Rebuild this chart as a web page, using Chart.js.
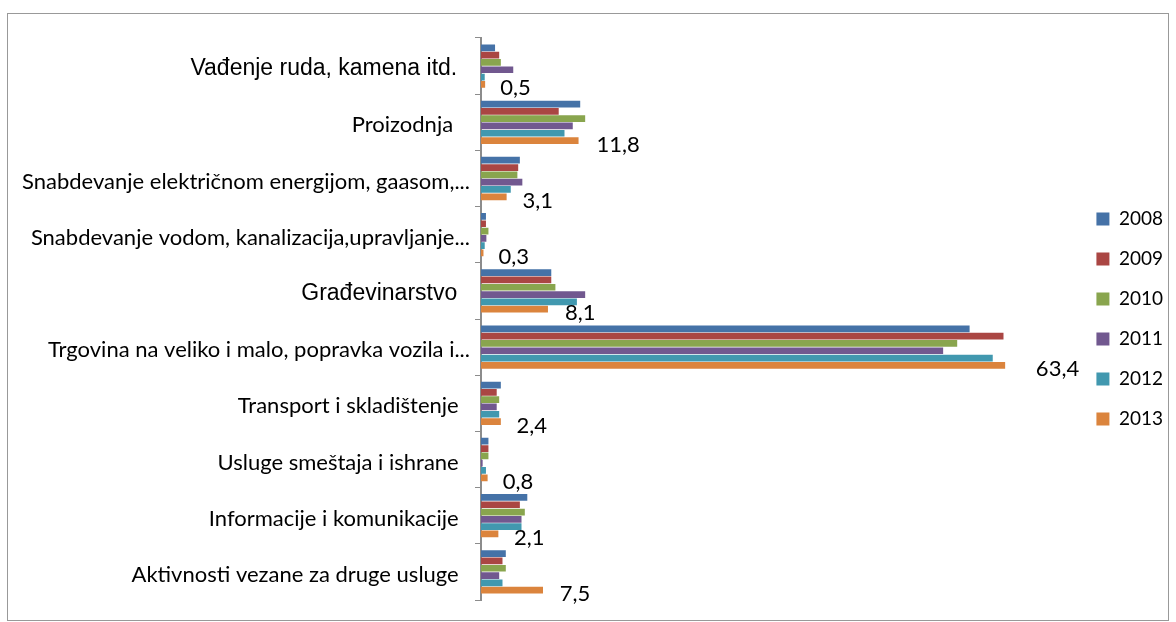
<!DOCTYPE html>
<html>
<head>
<meta charset="utf-8">
<script src="https://cdn.jsdelivr.net/npm/chart.js@4/dist/chart.umd.min.js"></script>
<style>
body {margin: 0; background: #fff;}
#frame {position: absolute; left: 7px; top: 13px; width: 1160px; height: 606px; border: 1px solid #999; pointer-events: none;}
canvas {position: absolute; left: 0; top: 0;}
</style>
</head>
<body>
<canvas id="chart" width="1176" height="622"></canvas>
<div id="frame"></div>
<script>
const categories = [
	"Vađenje ruda, kamena itd.",
	"Proizodnja ",
	"Snabdevanje električnom energijom, gaasom,...",
	"Snabdevanje vodom, kanalizacija,upravljanje...",
	"Građevinarstvo",
	"Trgovina na veliko i malo, popravka vozila i...",
	"Transport i skladištenje",
	"Usluge smeštaja i ishrane",
	"Informacije i komunikacije",
	"Aktivnosti vezane za druge usluge",
];
const years = ["2008", "2009", "2010", "2011", "2012", "2013"];
const v2008 = [1.7, 12.0, 4.7, 0.6, 8.5, 59.1, 2.4, 0.9, 5.6, 3.0];
const v2009 = [2.2, 9.4, 4.5, 0.6, 8.5, 63.2, 1.9, 0.9, 4.7, 2.6];
const v2010 = [2.4, 12.6, 4.4, 0.9, 9.0, 57.6, 2.2, 0.9, 5.3, 3.0];
const v2011 = [3.9, 11.1, 5.0, 0.65, 12.6, 55.9, 1.9, 0.2, 4.9, 2.2];
const v2012 = [0.45, 10.1, 3.6, 0.45, 11.6, 61.9, 2.2, 0.6, 4.9, 2.6];
const v2013 = [0.5, 11.8, 3.1, 0.3, 8.1, 63.4, 2.4, 0.8, 2.1, 7.5];

const colors = ["#4572A7", "#AA4643", "#89A54E", "#71588F", "#4198AF", "#DB843D"];
const series = [v2008, v2009, v2010, v2011, v2012, v2013];
//Two of the category labels are in a different (Arial-like) font in the original
const arialLabels = [0, 4];

//Value labels are only shown on the last (2013) series, with a decimal comma
const valueLabels = {
	id: "valueLabels",
	afterDatasetsDraw(chart) {
		const ctx = chart.ctx;
		const meta = chart.getDatasetMeta(series.length - 1);
		ctx.save();
		ctx.font = "22px Lato";
		ctx.fillStyle = "#000";
		ctx.textAlign = "left";
		ctx.textBaseline = "middle";
		meta.data.forEach((bar, i) => {
			//Excel drifts the labels a little further out on the longer bars
			ctx.fillText(String(v2013[i]).replace(".", ","), bar.x + 15 + (bar.x - bar.base) * 0.03, bar.y + 4);
		});
		ctx.restore();
	},
};

new Chart(document.getElementById("chart"), {
	type: "bar",
	data: {
		labels: categories,
		datasets: years.map((y, i) => ({
			label: y,
			data: series[i],
			backgroundColor: colors[i],
			borderWidth: 0,
			categoryPercentage: 0.78,
			barPercentage: 0.92,
		})),
	},
	options: {
		indexAxis: "y",
		responsive: false,
		animation: false,
		layout: {padding: {top: 38, bottom: 22, left: 0, right: 3}},
		scales: {
			x: {display: false, min: 0, max: 71.9},
			y: {
				afterFit: scale => {scale.width = 481;},
				grid: {drawOnChartArea: false, drawTicks: true, tickLength: 6, color: "#8c8c8c", lineWidth: 1},
				border: {color: "#8c8c8c", width: 2},
				ticks: {
					color: "#000",
					padding: 5,
					labelOffset: 3,
					autoSkip: false,
					//Labels ending in an ellipsis reach further right in the original
					callback: (v, i) => categories[i] + (categories[i].endsWith("...") ? "" : "  "),
					font: c => arialLabels.includes(c.index)
						? {family: "Liberation Sans", size: 23}
						: {family: "Lato", size: 22},
				},
			},
		},
		plugins: {
			legend: {
				position: "right",
				labels: {
					boxWidth: 13, boxHeight: 13, padding: 21,
					color: "#000",
					font: {family: "Lato", size: 19},
				},
			},
			tooltip: {enabled: false},
		},
	},
	plugins: [valueLabels],
});
</script>
</body>
</html>
